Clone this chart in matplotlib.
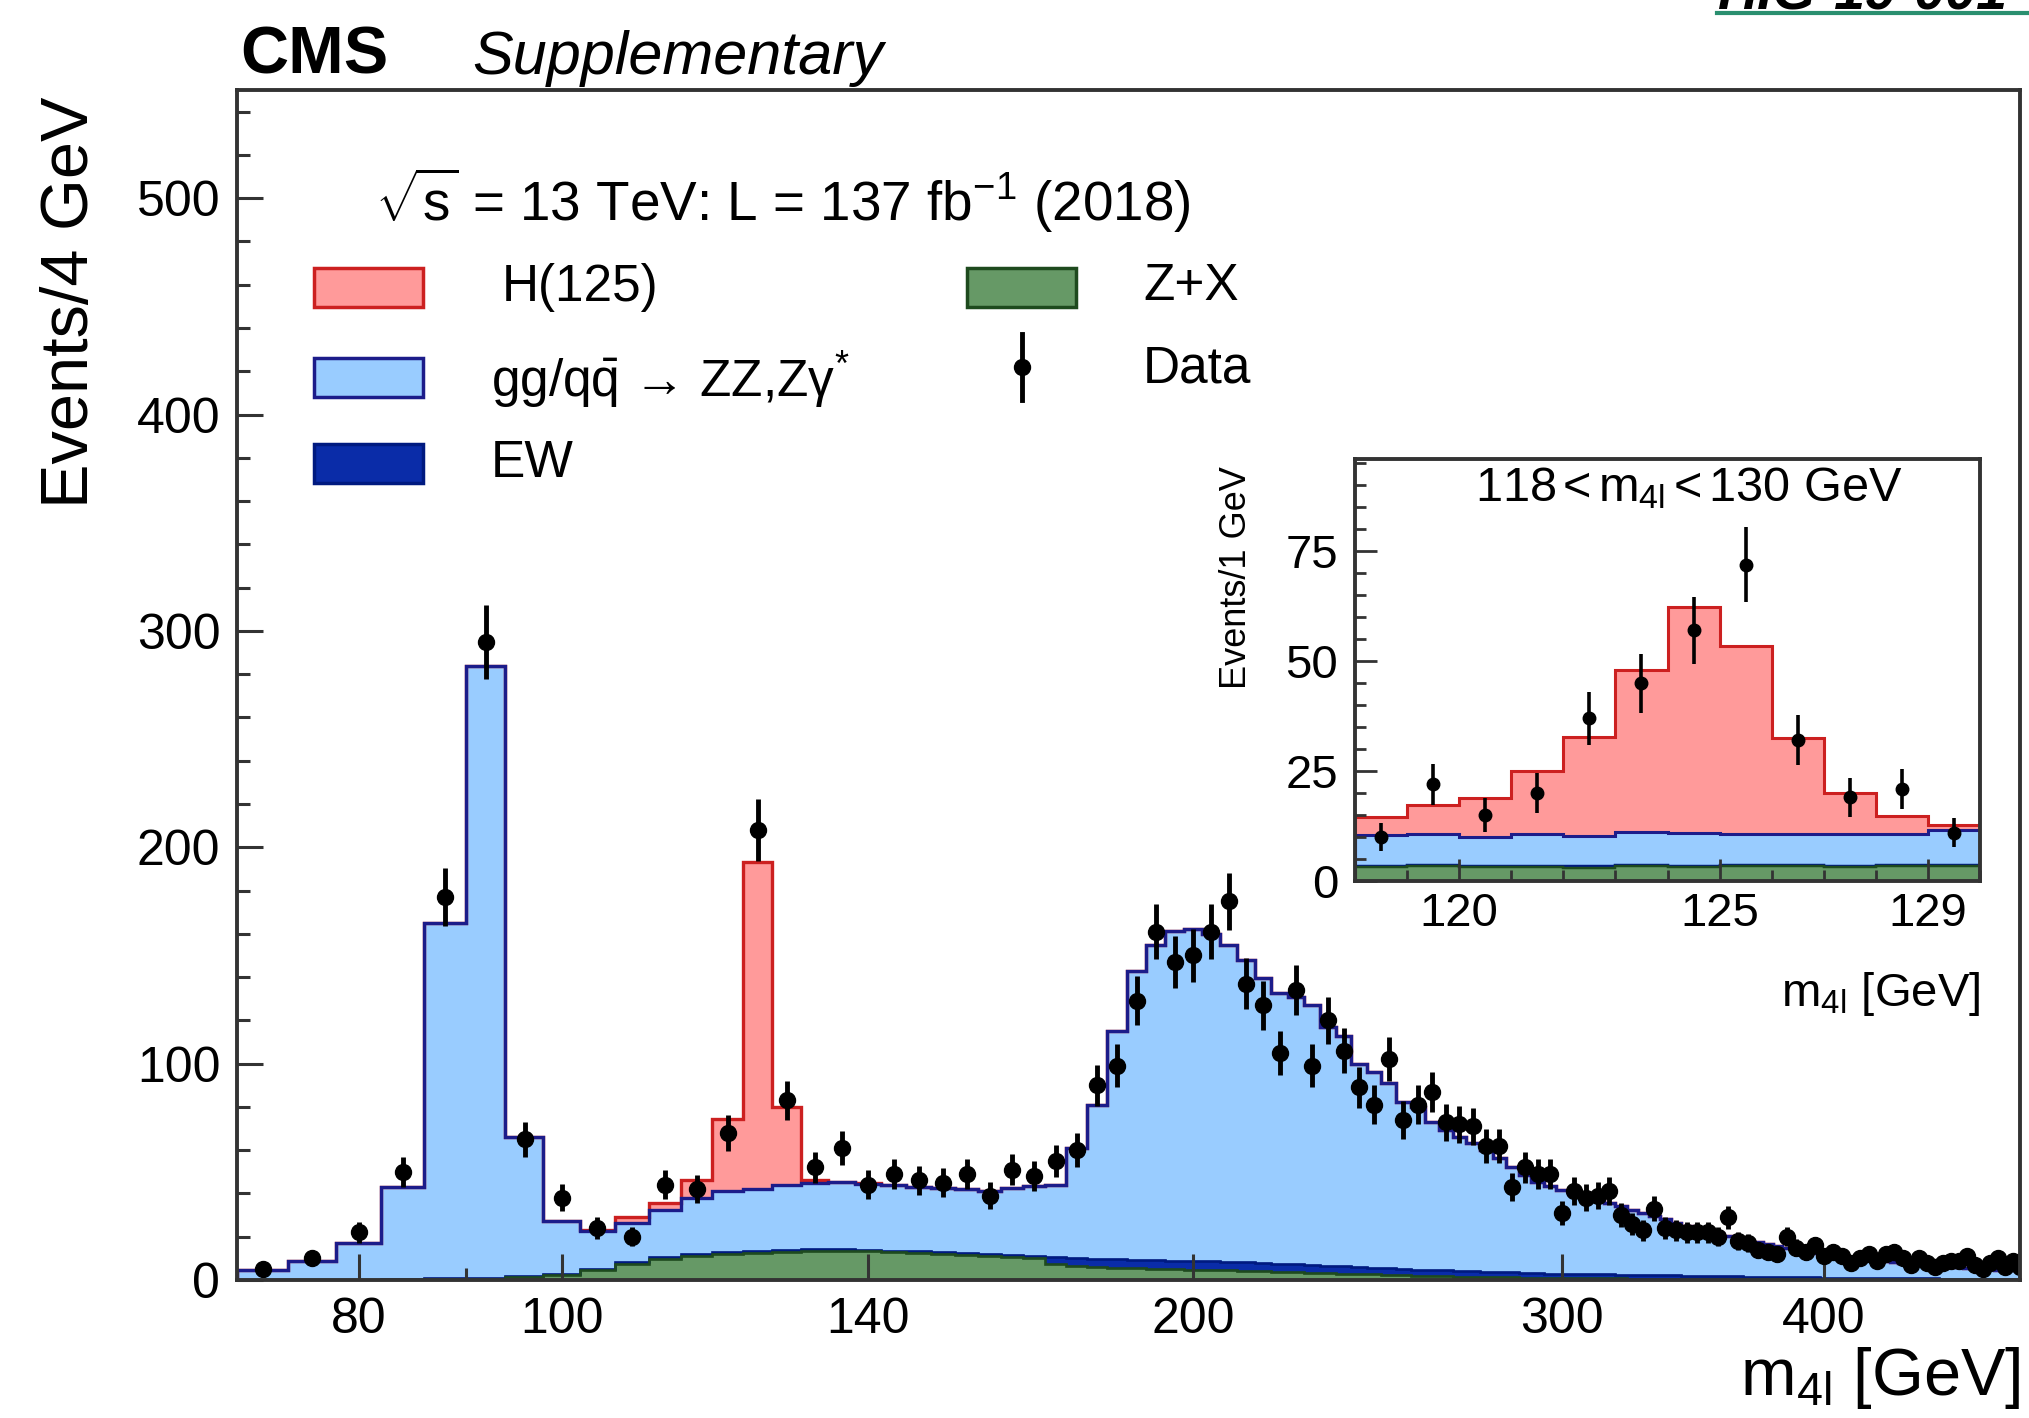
import numpy as np
import matplotlib.pyplot as plt
from matplotlib.patches import Rectangle
from matplotlib.lines import Line2D
from matplotlib.ticker import FixedLocator, MultipleLocator, NullFormatter, FixedFormatter

plt.rcParams['font.family'] = ['Liberation Sans', 'DejaVu Sans']
plt.rcParams['mathtext.fontset'] = 'custom'
plt.rcParams['mathtext.rm'] = 'Liberation Sans'
plt.rcParams['mathtext.it'] = 'Liberation Sans:italic'
plt.rcParams['mathtext.bf'] = 'Liberation Sans:bold'

W, H = 2029, 1418

# main plot: 4 GeV bins starting at 70 GeV (centres 72 ... 496)
m_lo, m_w = 70, 4

data_4 = [5, 10, 22, 50, 177, 295, 65, 38, 24, 20,
          44, 42, 68, 208, 83, 52, 61, 44, 49, 46,
          45, 49, 39, 51, 48, 55, 60, 90, 99, 129,
          161, 147, 150, 161, 175, 137, 127, 105, 134, 99,
          120, 106, 89, 81, 102, 74, 81, 87, 73, 72,
          71, 62, 62, 43, 52, 49, 49, 31, 41, 38,
          39, 41, 30, 26, 23, 33, 24, 23, 22, 22,
          22, 20, 29, 18, 17, 14, 13, 12, 20, 15,
          13, 16, 11, 13, 11, 8, 10, 12, 9, 12,
          13, 10, 7, 10, 8, 6, 8, 9, 9, 11,
          7, 5, 8, 10, 6, 9, 6]

zx_4 = [0, 0, 0, 0.2, 0.4, 0.6, 1.2, 2.3, 4.5, 7.5,
        9.8, 11.3, 12.2, 12.7, 13.1, 13.5, 13.5, 13.2, 12.8, 12.4,
        12.0, 11.6, 11.2, 10.6, 10.0, 7.5, 6.5, 6.0, 5.6, 5.4,
        5.2, 5.0, 4.8, 4.6, 4.4, 4.2, 4.0, 3.8, 3.6, 3.4,
        3.2, 3.0, 2.8, 2.6, 2.4, 2.2, 2.0, 1.9, 1.8, 1.6,
        1.5, 1.4, 1.3, 1.2, 1.1, 1.0, 0.9, 0.9, 0.8, 0.8,
        0.7, 0.7, 0.7, 0.6, 0.6, 0.6, 0.5, 0.5, 0.5, 0.5,
        0.4, 0.4, 0.4, 0.4, 0.4, 0.3, 0.3, 0.3, 0.3, 0.3,
        0.3, 0.2, 0.2, 0.2, 0.2, 0.2, 0.2, 0.2, 0.2, 0.1,
        0.1, 0.1, 0.1, 0.1, 0.1, 0.1, 0.1, 0.1, 0.1, 0.1,
        0.1, 0.1, 0.1, 0.1, 0.1, 0.1, 0.1]

ew_4 = [0.1, 0.1, 0.2, 0.2, 0.4, 0.4, 0.5, 0.6, 0.6, 0.7,
        0.7, 0.8, 0.8, 0.8, 0.8, 0.8, 0.8, 0.8, 0.8, 0.8,
        0.8, 0.9, 0.9, 1.0, 1.2, 3.0, 3.5, 3.8, 4.0, 4.0,
        4.0, 4.0, 4.0, 4.0, 4.0, 3.9, 3.8, 3.7, 3.6, 3.5,
        3.4, 3.3, 3.2, 3.1, 3.0, 2.9, 2.8, 2.7, 2.6, 2.5,
        2.5, 2.4, 2.3, 2.3, 2.2, 2.2, 2.1, 2.1, 2.0, 2.0,
        1.9, 1.9, 1.8, 1.8, 1.7, 1.7, 1.6, 1.6, 1.5, 1.5,
        1.4, 1.4, 1.3, 1.3, 1.2, 1.2, 1.2, 1.1, 1.1, 1.0,
        1.0, 1.0, 0.9, 0.9, 0.9, 0.8, 0.8, 0.8, 0.7, 0.7,
        0.7, 0.7, 0.6, 0.6, 0.6, 0.6, 0.5, 0.5, 0.5, 0.5,
        0.5, 0.4, 0.4, 0.4, 0.4, 0.4, 0.4]

zz_4 = [4.4, 8.9, 16.8, 42.6, 164.2, 283.0, 64.3, 24.4, 17.4, 18.3,
        22.0, 25.9, 28.0, 28.5, 30.1, 30.7, 30.9, 30.5, 30.4, 29.8,
        29.6, 29.5, 29.2, 30.8, 32.3, 33.5, 51.0, 71.2, 105.4, 133.6,
        145.8, 152.5, 153.2, 151.4, 146.6, 139.9, 131.7, 125.0, 123.8, 120.1,
        110.4, 106.7, 94.0, 90.6, 85.6, 77.4, 75.2, 68.4, 64.9, 62.2,
        59.2, 56.2, 52.6, 48.9, 45.2, 42.3, 40.5, 38.5, 37.2, 35.7,
        34.4, 32.9, 31.5, 30.1, 28.7, 27.2, 25.9, 24.4, 23.0, 22.0,
        20.7, 19.7, 18.8, 17.8, 16.9, 16.0, 15.0, 14.1, 13.3, 12.7,
        12.0, 11.4, 10.9, 10.3, 9.8, 9.4, 8.9, 8.5, 8.2, 7.9,
        7.5, 7.2, 6.9, 6.6, 6.3, 6.0, 5.8, 5.5, 5.3, 5.0,
        4.8, 4.7, 4.5, 4.3, 4.1, 3.9, 3.7]

h125_4 = [0, 0, 0, 0, 0, 0, 0, 0.2, 0.5, 2.5,
          3.0, 8.0, 33.5, 151.0, 36.0, 1.0, 0.3, 0.2, 0, 0,
          0, 0, 0, 0, 0, 0, 0, 0, 0, 0,
          0, 0, 0, 0, 0, 0, 0, 0, 0, 0,
          0, 0, 0, 0, 0, 0, 0, 0, 0, 0,
          0, 0, 0, 0, 0, 0, 0, 0, 0, 0,
          0, 0, 0, 0, 0, 0, 0, 0, 0, 0,
          0, 0, 0, 0, 0, 0, 0, 0, 0, 0,
          0, 0, 0, 0, 0, 0, 0, 0, 0, 0,
          0, 0, 0, 0, 0, 0, 0, 0, 0, 0,
          0, 0, 0, 0, 0, 0, 0]

# inset: 1 GeV bins 118 - 130 GeV
i_lo, i_w = 118, 1
data_1 = [10, 22, 15, 20, 37, 45, 57, 72, 32, 19, 21, 11]
zx_1 = [3.1, 3.3, 3.1, 3.2, 3.0, 3.3, 3.2, 3.4, 3.3, 3.2, 3.4, 3.3]
ew_1 = [0.3, 0.3, 0.3, 0.3, 0.3, 0.3, 0.3, 0.3, 0.3, 0.3, 0.3, 0.3]
zz_1 = [7.0, 7.2, 6.5, 7.1, 6.9, 7.6, 7.5, 7.1, 7.2, 7.3, 7.1, 7.9]
h125_1 = [4.2, 6.5, 8.9, 14.4, 22.5, 36.8, 51.4, 42.7, 21.8, 9.2, 4.1, 1.2]

x_ticks = [80, 100, 140, 200, 300, 400]
inset_xticks = [120, 125, 129]

c_h, c_h_line = '#ff9a9a', '#cc2020'
c_zz, c_zz_line = '#99ccff', '#1c1c8a'
c_ew, c_ew_line = '#0a2ca8', '#001a80'
c_zx, c_zx_line = '#669966', '#1e4a1e'
frame = '#333333'


def fx(px):
    return px / W


def fy(py):
    return 1 - py / H


def draw_stack(ax, lo, w, zx, ew, zz, h, data, lw, ms, elw):
    n = len(data)
    edges = lo + w * np.arange(n + 1)
    centres = edges[:-1] + w / 2
    b1 = np.array(zx, float)
    b2 = b1 + np.array(ew)
    b3 = b2 + np.array(zz)
    b4 = b3 + np.array(h)
    ax.stairs(b1, edges, baseline=0, fill=True, color=c_zx)
    ax.stairs(b2, edges, baseline=b1, fill=True, color=c_ew)
    ax.stairs(b3, edges, baseline=b2, fill=True, color=c_zz)
    ax.stairs(b4, edges, baseline=b3, fill=True, color=c_h)
    ax.stairs(b4, edges, baseline=0, color=c_h_line, lw=lw)
    ax.stairs(b3, edges, baseline=0, color=c_zz_line, lw=lw)
    ax.stairs(b2, edges, baseline=0, color=c_ew_line, lw=lw * 0.8)
    ax.stairs(b1, edges, baseline=0, color=c_zx_line, lw=lw * 0.8)
    d = np.array(data, float)
    ax.errorbar(centres, d, yerr=np.sqrt(d), fmt='o', color='black',
                ms=ms, elinewidth=elw, capsize=0, zorder=5)


def style_frame(ax):
    for s in ax.spines.values():
        s.set_linewidth(2.8)
        s.set_color(frame)
        s.set_zorder(10)


fig = plt.figure(figsize=(W / 100, H / 100), dpi=100)

# main panel
ax = fig.add_axes([fx(237), fy(1280), 1783 / W, 1190 / H])
draw_stack(ax, m_lo, m_w, zx_4, ew_4, zz_4, h125_4, data_4, lw=2.4, ms=11.5, elw=3.5)
ax.set_xscale('log')
ax.set_xlim(70, 496)
ax.set_ylim(0, 550)
ax.xaxis.set_major_locator(FixedLocator(x_ticks))
ax.xaxis.set_major_formatter(FixedFormatter([str(t) for t in x_ticks]))
ax.xaxis.set_minor_locator(FixedLocator([90]))
ax.xaxis.set_minor_formatter(NullFormatter())
ax.yaxis.set_major_locator(MultipleLocator(100))
ax.yaxis.set_minor_locator(MultipleLocator(20))
ax.tick_params(which='both', direction='in', color=frame, width=2.2,
               labelsize=36, pad=12, top=False, right=False)
ax.tick_params(which='major', length=19)
ax.tick_params(which='minor', length=9)
style_frame(ax)

# inset panel
ax2 = fig.add_axes([fx(1355), fy(881), 625 / W, 422 / H])
ax2.set_facecolor('white')
draw_stack(ax2, i_lo, i_w, zx_1, ew_1, zz_1, h125_1, data_1, lw=2.2, ms=9, elw=2.6)
ax2.set_xlim(118, 130)
ax2.set_ylim(0, 96)
ax2.xaxis.set_major_locator(FixedLocator(inset_xticks))
ax2.xaxis.set_minor_locator(MultipleLocator(1))
ax2.yaxis.set_major_locator(FixedLocator([0, 25, 50, 75]))
ax2.yaxis.set_minor_locator(MultipleLocator(5))
ax2.tick_params(which='both', direction='in', color=frame, width=2,
                labelsize=34, top=False, right=False)
ax2.tick_params(axis='x', pad=8)
ax2.tick_params(axis='y', pad=12)
ax2.tick_params(which='major', length=16)
ax2.tick_params(which='minor', length=8)
style_frame(ax2)
ax2.text(0.534, 0.93, '118$\\,$<$\\,$m$_{\\mathregular{4l}}$$\\,$<$\\,$130 GeV',
         transform=ax2.transAxes, ha='center', va='center', fontsize=35)

# labels
fig.text(fx(71), fy(97), 'Events/4 GeV', rotation=90, ha='center', va='top', fontsize=48)
fig.text(fx(2020), fy(1378), 'm$_{\\mathregular{4l}}$ [GeV]', ha='right', va='center', fontsize=48)
fig.text(fx(1236), fy(466), 'Events/1 GeV', rotation=90, ha='center', va='top', fontsize=26)
fig.text(fx(1980), fy(994), 'm$_{\\mathregular{4l}}$ [GeV]', ha='right', va='center', fontsize=34)

fig.text(fx(240), fy(74), 'CMS', fontsize=48, fontweight='bold', va='baseline')
fig.text(fx(472), fy(74), 'Supplementary', fontsize=44, style='italic', va='baseline')
fig.text(fx(1717), fy(9), 'HIG-19-001', fontsize=40, fontweight='bold', style='italic', va='baseline')
fig.add_artist(Line2D([fx(1717), 1.0], [fy(13), fy(13)], color='#2a8f6f', lw=3))

fig.text(fx(375), fy(200), '$\\sqrt{\\mathregular{s}}$ = 13 TeV: L = 137 fb$^{\\mathregular{-1}}$ (2018)',
         ha='left', va='center', fontsize=39.5)

# legend
boxes = [(314, 268, c_h, c_h_line, 'H(125)', 502, 287),
         (314, 358, c_zz, c_zz_line, 'gg/q$\\bar{\\mathregular{q}}$ \u2192 ZZ,Z\u03b3$^{*}$', 491, 380),
         (314, 444, c_ew, c_ew_line, 'EW', 491, 463),
         (967, 268, c_zx, c_zx_line, 'Z+X', 1143, 287)]
for bx, by, fc, ec, lab, tx, ty in boxes:
    fig.add_artist(Rectangle((fx(bx), fy(by + 39)), 109 / W, 39 / H, transform=fig.transFigure,
                             facecolor=fc, edgecolor=ec, lw=2.5))
    fig.text(fx(tx), fy(ty), lab, ha='left', va='center', fontsize=37)
fig.add_artist(Line2D([fx(1022), fx(1022)], [fy(334), fy(400)], color='black', lw=3.5))
fig.add_artist(Line2D([fx(1022)], [fy(367)], marker='o', ms=11.5, color='black'))
fig.text(fx(1143), fy(369), 'Data', ha='left', va='center', fontsize=37)

fig.savefig('out.png', dpi=100, facecolor='white')
